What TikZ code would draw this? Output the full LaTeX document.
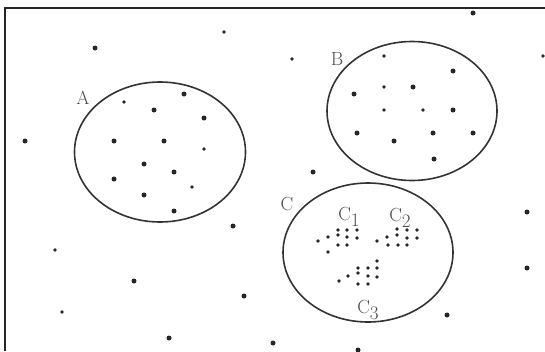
\documentclass[tikz,border=0pt]{standalone}
\begin{document}
\begin{tikzpicture}[x=1pt,y=-1pt,
  frame/.style={line width=2pt,draw=black!85},
  cluster/.style={line width=1.6pt,draw=black!80},
  lbl/.style={text=black!70,font=\fontsize{19}{19}\selectfont,inner sep=0pt},
  dot/.style={fill=black!85},
  tiny/.style={fill=black!85}]
\useasboundingbox (0,0) rectangle (545,351);
\fill[white] (0,0) rectangle (545,351);
% partial frame: top and left sides
\draw[frame] (5,351) -- (5,8) -- (545,8);

% the three regions
\draw[cluster] (160,152) ellipse [x radius=85.5, y radius=70];
\draw[cluster] (412,111) ellipse [x radius=85, y radius=69.5];
\draw[cluster] (368,252.5) ellipse [x radius=85, y radius=69.5];

% labels
\node[lbl] (la) at (83,98) {A};
\node[lbl] (lb) at (337,59) {B};
\node[lbl] (lc) at (287,204) {C};
\node[lbl] (lc1) at (349,217) {C\raisebox{-0.7ex}{1}};
\node[lbl] (lc2) at (400,218) {C\raisebox{-0.7ex}{2}};
\node[lbl] (lc3) at (368,310) {C\raisebox{-0.7ex}{3}};

% scattered points (larger)
\foreach \p in {(95,48),(25,141),(154,110),(204,118),(114,141),(164,141),
  (144,164),(174,172),(114,179),(144,195),(174,211),(184,94),(233,226),
  (134,281),(244,296),(169,338),(273,343),(358,350),(447,315),(527,212),
  (527,268),(473,13),(453,71),(354,94),(413,87),(453,110),(357,133),
  (394,141),(433,133),(473,133),(434,159),(313,172)}
  \fill[dot] \p circle (2.5);
% scattered points (smaller)
\foreach \p in {(224,32),(124,102),(204,149),(192,187),(55,250),(62,312),
  (292,59),(543,56),(384,56),(384,87),(384,110),(423,110)}
  \fill[tiny] \p circle (1.9);

% dense groups inside C
\foreach \p in {(338,230),(347,230),(357,230),(328,237),(338,235),(347,237),
  (357,238),(318,241),(338,245),(347,245),(328,252),
  (397,229),(407,230),(417,230),(387,237),(397,235),(407,238),(417,238),
  (377,241),(388,245),(398,245),(407,245),
  (377,261),(358,268),(368,268),(377,268),(348,276),(358,273),(368,276),
  (377,277),(339,281),(358,284),(368,284)}
  \fill[dot] \p circle (1.9);
\end{tikzpicture}
\end{document}
